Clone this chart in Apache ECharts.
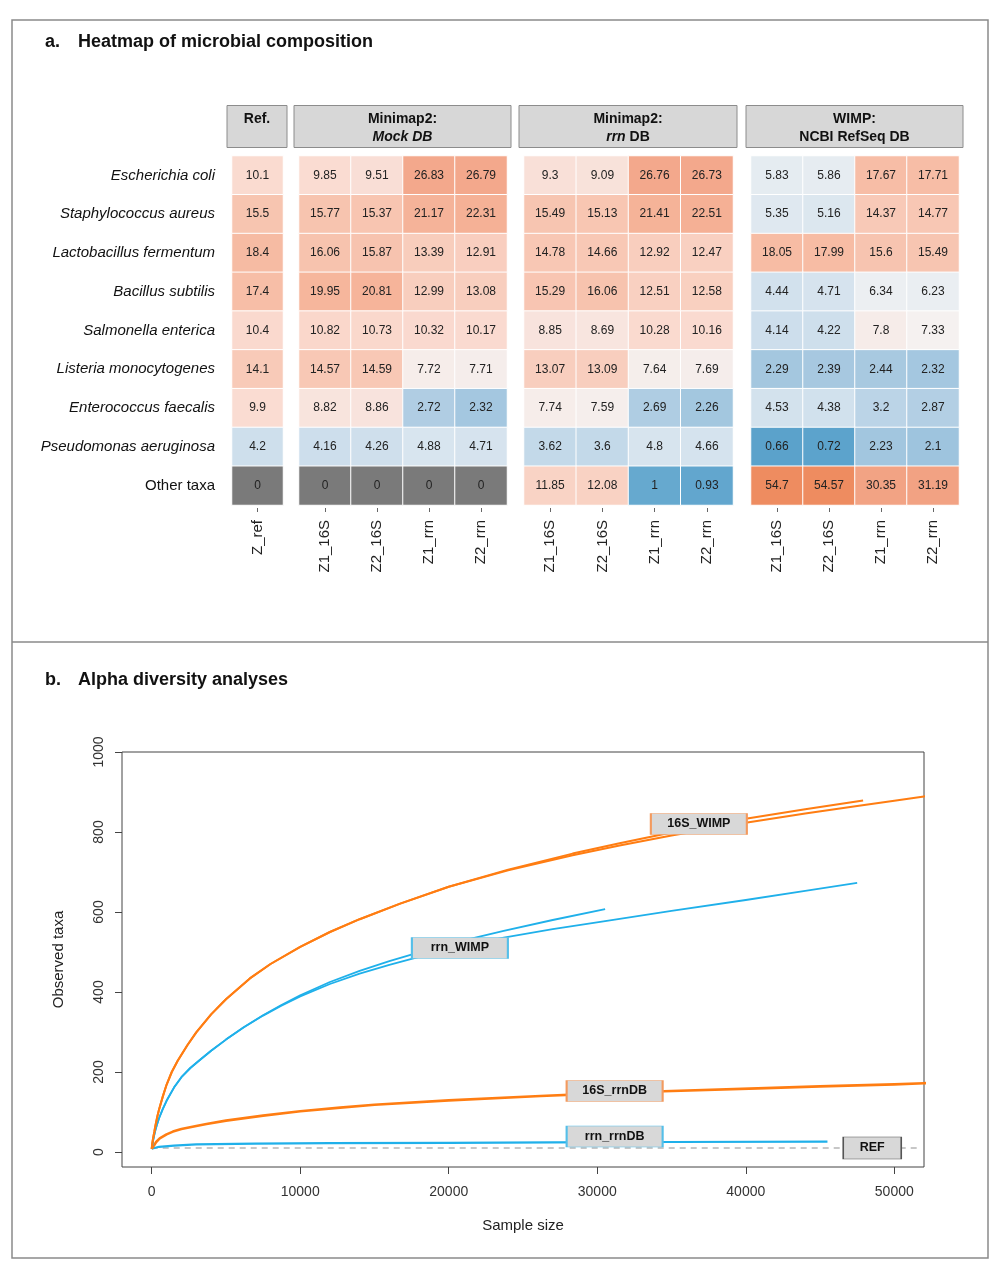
<!DOCTYPE html>
<html>
<head>
<meta charset="utf-8">
<script src="https://cdn.jsdelivr.net/npm/echarts@6/dist/echarts.min.js"></script>
<style>html,body{margin:0;padding:0;background:#fff}#c{width:1000px;height:1279px}</style>
</head>
<body>
<div id="c"></div>
<script>
// ---------- DATA ----------
const taxa = ['Escherichia coli','Staphylococcus aureus','Lactobacillus fermentum','Bacillus subtilis','Salmonella enterica','Listeria monocytogenes','Enterococcus faecalis','Pseudomonas aeruginosa','Other taxa'];
const refColumns = ['Z_ref'];
const sampleColumns = ['Z1_16S','Z2_16S','Z1_rrn','Z2_rrn'];

const refValues = [[10.1],[15.5],[18.4],[17.4],[10.4],[14.1],[9.9],[4.2],[0]];
const mockDbValues = [
  [9.85, 9.51, 26.83, 26.79],
  [15.77, 15.37, 21.17, 22.31],
  [16.06, 15.87, 13.39, 12.91],
  [19.95, 20.81, 12.99, 13.08],
  [10.82, 10.73, 10.32, 10.17],
  [14.57, 14.59, 7.72, 7.71],
  [8.82, 8.86, 2.72, 2.32],
  [4.16, 4.26, 4.88, 4.71],
  [0, 0, 0, 0]
];
const rrnDbValues = [
  [9.3, 9.09, 26.76, 26.73],
  [15.49, 15.13, 21.41, 22.51],
  [14.78, 14.66, 12.92, 12.47],
  [15.29, 16.06, 12.51, 12.58],
  [8.85, 8.69, 10.28, 10.16],
  [13.07, 13.09, 7.64, 7.69],
  [7.74, 7.59, 2.69, 2.26],
  [3.62, 3.6, 4.8, 4.66],
  [11.85, 12.08, 1, 0.93]
];
const wimpValues = [
  [5.83, 5.86, 17.67, 17.71],
  [5.35, 5.16, 14.37, 14.77],
  [18.05, 17.99, 15.6, 15.49],
  [4.44, 4.71, 6.34, 6.23],
  [4.14, 4.22, 7.8, 7.33],
  [2.29, 2.39, 2.44, 2.32],
  [4.53, 4.38, 3.2, 2.87],
  [0.66, 0.72, 2.23, 2.1],
  [54.7, 54.57, 30.35, 31.19]
];

// rarefaction curves: [sample size, observed taxa]
const wimp16sA = [[0,8],[25,16],[50,24],[100,36],[175,50],[250,66],[375,88],[500,107],[750,139],[1000,168],[1350,200],[1750,228],[2400,267],[3000,299],[4000,344],[5000,382],[6610,434],[8000,470],[10000,513],[12000,550],[14000,582],[16730,621],[20000,663],[24000,706],[28340,746],[31500,772],[35000,799],[40100,834],[44000,857],[47900,879]];
const wimp16sB = [[0,8],[25,16],[50,24],[100,36],[175,50],[250,66],[375,88],[500,107],[750,139],[1000,168],[1350,200],[1750,228],[2400,267],[3000,299],[4000,344],[5000,382],[6610,434],[8000,470],[10000,513],[12000,550],[14000,582],[16730,621],[20000,663],[24000,704],[28340,742],[31500,766],[35000,791],[40100,824],[44000,846],[47500,865],[50000,878],[52000,889],[53000,894]];
const wimpRrnA = [[0,8],[25,13],[50,18],[100,30],[175,43],[250,55],[375,71],[500,85],[750,108],[1000,128],[1500,161],[2000,187],[2600,210],[3240,230],[4000,253],[5000,281],[6200,312],[7500,342],[8700,367],[10000,392],[12000,425],[14000,453],[16000,477],[18000,499],[20800,527],[23700,553],[27000,580],[30530,607]];
const wimpRrnB = [[0,8],[25,13],[50,18],[100,30],[175,43],[250,55],[375,71],[500,85],[750,108],[1000,128],[1500,161],[2000,187],[2600,210],[3240,230],[4000,253],[5000,281],[6200,312],[7500,341],[8700,365],[10000,389],[12000,420],[14000,446],[16000,468],[18000,488],[20800,513],[23700,536],[27000,557],[30530,577],[35000,603],[40000,630],[44000,653],[47500,673]];
const rrnDb16s = [[0,8],[50,10],[150,16],[300,25],[540,34],[1000,44],[1430,51],[2000,57.5],[3000,65],[3690,70],[5000,78.5],[7500,91],[10000,102],[12690,111],[15000,118],[20000,129],[26180,140],[30000,146],[34480,152],[40800,159],[45000,164],[50000,169],[52000,172],[53000,173]];
const rrnDbRrn = [[0,8],[100,10],[500,13],[1500,16],[3000,19],[7000,21],[12000,22],[20000,23],[27000,24],[35000,25],[45500,26]];
const refTaxa = [[0,10],[51800,10]];
const curveLabels = [
  {name:'16S_WIMP', value:[36840, 820], kind:'orange'},
  {name:'rrn_WIMP', value:[20750, 510], kind:'blue'},
  {name:'16S_rrnDB', value:[31170, 152.5], kind:'orange'},
  {name:'rrn_rrnDB', value:[31170, 38.75], kind:'blue'},
  {name:'REF', value:[48515, 10], kind:'ref'}
];
const xTicks = [0, 10000, 20000, 30000, 40000, 50000];
const yTicks = [0, 200, 400, 600, 800, 1000];

// ---------- STYLES ----------
const FONT = '"Liberation Sans", Arial, sans-serif';
const ORANGE = '#ff7d12';
const BLUE = '#1fb0ea';
const NA_GREY = '#7a7a7a';
const heatColors = ['#5aa2cb','#5fa5cd','#74b0d3','#92bfdb','#aacae1','#c2d8e9','#dae6ef','#f4f3f3','#fadbd1','#f8cab8','#f6b69c','#f3a689','#f09874','#ee8b5e'];

const heatGroups = [
  {cols: refColumns, vals: refValues, left: 232, width: 51},
  {cols: sampleColumns, vals: mockDbValues, left: 299, width: 208},
  {cols: sampleColumns, vals: rrnDbValues, left: 524, width: 209},
  {cols: sampleColumns, vals: wimpValues, left: 751, width: 208}
];
const heatTop = 156, heatHeight = 349;

function heatData(vals, wantNA) {
  const out = [];
  vals.forEach((row, r) => row.forEach((v, c) => {
    const isNA = !(v > 0);
    if (isNA === wantNA) out.push([c, r, v, isNA ? 0 : Math.log10(v)]);
  }));
  return out;
}

const grids = [], xAxes = [], yAxes = [], series = [];
const heatSeriesIdx = [];
heatGroups.forEach((g, i) => {
  grids.push({left: g.left, width: g.width, top: heatTop, height: heatHeight, containLabel: false});
  xAxes.push({
    type: 'category', gridIndex: i, data: g.cols, position: 'bottom', offset: 3,
    axisLine: {show: false},
    axisTick: {show: true, alignWithLabel: true, length: 4, lineStyle: {color: '#666'}},
    axisLabel: {rotate: 90, fontSize: 15, color: '#222', fontFamily: FONT, margin: 12},
    splitLine: {show: false}
  });
  yAxes.push({
    type: 'category', gridIndex: i, data: taxa, inverse: true,
    axisLine: {show: false}, axisTick: {show: false}, splitLine: {show: false},
    axisLabel: i === 0 ? {
      show: true, margin: 17, fontFamily: FONT,
      formatter: v => v === 'Other taxa' ? '{n|' + v + '}' : '{i|' + v + '}',
      rich: {
        i: {fontStyle: 'italic', fontSize: 15, color: '#111', fontFamily: FONT},
        n: {fontSize: 15, color: '#111', fontFamily: FONT}
      }
    } : {show: false}
  });
  const lbl = {show: true, fontSize: 12, color: '#222', fontFamily: FONT, formatter: p => String(p.value[2])};
  heatSeriesIdx.push(series.length);
  series.push({
    type: 'heatmap', xAxisIndex: i, yAxisIndex: i,
    data: heatData(g.vals, false),
    itemStyle: {borderColor: '#ffffff', borderWidth: 1},
    label: lbl, emphasis: {disabled: true}
  });
  series.push({
    type: 'heatmap', xAxisIndex: i, yAxisIndex: i,
    data: heatData(g.vals, true),
    itemStyle: {color: NA_GREY, borderColor: '#ffffff', borderWidth: 1},
    label: lbl, emphasis: {disabled: true}
  });
});

// line chart grid
grids.push({left: 122, right: 76, top: 752, height: 415, show: true, borderColor: '#444', borderWidth: 1, backgroundColor: 'transparent'});
xAxes.push({
  type: 'value', gridIndex: 4, min: -2000, max: 52000,
  axisLine: {show: false, onZero: false},
  axisTick: {show: true, length: 7, inside: false, customValues: xTicks, lineStyle: {color: '#444'}},
  axisLabel: {fontSize: 14, color: '#333', fontFamily: FONT, margin: 18, customValues: xTicks, formatter: v => String(v)},
  splitLine: {show: false},
  name: 'Sample size', nameLocation: 'middle', nameGap: 51,
  nameTextStyle: {fontSize: 15, color: '#222', fontFamily: FONT}
});
yAxes.push({
  type: 'value', gridIndex: 4, min: -37.5, max: 1000,
  axisLine: {show: false, onZero: false},
  axisTick: {show: true, length: 7, customValues: yTicks, lineStyle: {color: '#444'}},
  axisLabel: {fontSize: 14, color: '#333', fontFamily: FONT, rotate: 90, margin: 16, customValues: yTicks, formatter: v => String(v)},
  splitLine: {show: false},
  name: 'Observed taxa', nameLocation: 'middle', nameGap: 56,
  nameTextStyle: {fontSize: 15, color: '#222', fontFamily: FONT}
});

function curve(data, color, width, extra) {
  return Object.assign({
    type: 'line', xAxisIndex: 4, yAxisIndex: 4, data: data,
    showSymbol: false, symbol: 'none', smooth: false,
    lineStyle: {color: color, width: width, join: 'round', cap: 'butt'}, clip: true, silent: true, z: 3
  }, extra || {});
}
series.push(curve(refTaxa, '#b5b5b5', 1.5, {lineStyle: {color: '#b5b5b5', width: 1.5, type: [6, 5]}, z: 2}));
series.push(curve(rrnDbRrn, BLUE, 2.2));
series.push(curve(rrnDb16s, ORANGE, 2.6));
series.push(curve(wimpRrnA, BLUE, 1.8));
series.push(curve(wimpRrnB, BLUE, 1.8));
series.push(curve(wimp16sA, ORANGE, 2));
series.push(curve(wimp16sB, ORANGE, 2));

// curve name boxes, drawn as rect symbols above the lines
const borderFor = {orange: '#f39a5e', blue: '#55bfe9', ref: '#555555'};
series.push({
  type: 'scatter', xAxisIndex: 4, yAxisIndex: 4, z: 20, zlevel: 1, silent: true,
  symbol: 'rect',
  data: curveLabels.map(l => ({
    name: l.name, value: l.value,
    symbolSize: l.kind === 'ref' ? [58, 22] : [96, 21],
    itemStyle: {color: '#d8d8d8', borderColor: borderFor[l.kind], borderWidth: 1, opacity: 1},
    label: {
      show: true, position: 'inside', formatter: '{b}',
      fontWeight: 'bold', fontSize: 12.5, color: '#111', fontFamily: FONT
    }
  })),
  emphasis: {disabled: true}
});

// header strips & frame
const graphic = [
  {type: 'rect', shape: {x: 12, y: 20, width: 976, height: 1238}, style: {fill: 'none', stroke: '#8a8a8a', lineWidth: 1.5}, silent: true},
  {type: 'line', shape: {x1: 12, y1: 642, x2: 988, y2: 642}, style: {stroke: '#8a8a8a', lineWidth: 1.5}, silent: true},
  {type: 'text', x: 45, y: 42, style: {text: 'a.', font: 'bold 18px ' + FONT, fill: '#111', verticalAlign: 'middle'}},
  {type: 'text', x: 78, y: 42, style: {text: 'Heatmap of microbial composition', font: 'bold 18px ' + FONT, fill: '#111', verticalAlign: 'middle'}},
  {type: 'text', x: 45, y: 680, style: {text: 'b.', font: 'bold 18px ' + FONT, fill: '#111', verticalAlign: 'middle'}},
  {type: 'text', x: 78, y: 680, style: {text: 'Alpha diversity analyses', font: 'bold 18px ' + FONT, fill: '#111', verticalAlign: 'middle'}}
];
const richHead = {
  b: {fontWeight: 'bold', fontSize: 14, fontFamily: FONT, fill: '#111', lineHeight: 18},
  bi: {fontWeight: 'bold', fontStyle: 'italic', fontSize: 14, fontFamily: FONT, fill: '#111', lineHeight: 18}
};
const headTexts = ['{b|Ref.}', '{b|Minimap2:}\n{bi|Mock DB}', '{b|Minimap2:}\n{bi|rrn}{b| DB}', '{b|WIMP:}\n{b|NCBI RefSeq DB}'];
heatGroups.forEach((g, i) => {
  const x = g.left - 5, w = g.width + 9;
  graphic.push({type: 'rect', shape: {x: x, y: 105.5, width: w, height: 42}, style: {fill: '#d7d7d7', stroke: '#8c8c8c', lineWidth: 1}, silent: true});
  graphic.push({type: 'text', x: x + w / 2, y: 110, style: {text: headTexts[i], rich: richHead, align: 'center', verticalAlign: 'top', fill: '#111', font: 'bold 14px ' + FONT}, silent: true});
});

const chart = echarts.init(document.getElementById('c'), null, {renderer: 'canvas'});
chart.setOption({
  animation: false,
  backgroundColor: '#ffffff',
  textStyle: {fontFamily: FONT},
  grid: grids, xAxis: xAxes, yAxis: yAxes,
  visualMap: {
    type: 'continuous', show: false, seriesIndex: heatSeriesIdx, dimension: 3,
    min: -0.2, max: 1.75,
    inRange: {color: heatColors}
  },
  series: series,
  graphic: graphic
});
</script>
</body>
</html>
